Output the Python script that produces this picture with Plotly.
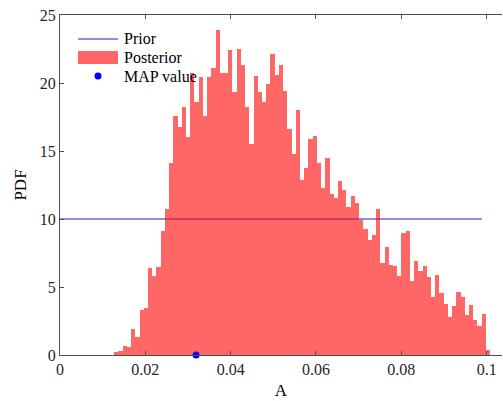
import numpy as np
import plotly.graph_objects as go

# Posterior histogram of parameter A (normalised to a PDF)
bin_start = 0.0127
bin_width = 0.00099
posterior_pdf = [
    0.19, 0.26, 0.63, 0.59, 1.90, 1.32, 3.32, 3.47, 6.40, 5.83,
    6.46, 9.15, 10.75, 14.13, 17.57, 16.77, 18.22, 16.00, 20.70, 18.60,
    20.44, 17.55, 20.44, 21.10, 23.90, 20.76, 20.76, 22.45, 19.34, 22.52,
    21.35, 18.20, 15.50, 20.50, 19.34, 18.58, 19.90, 22.15, 20.56, 21.30,
    19.41, 16.65, 14.75, 18.05, 12.86, 13.72, 15.86, 16.09, 14.09, 12.25,
    14.45, 11.82, 11.52, 12.81, 12.13, 10.90, 11.66, 11.18, 9.93, 9.27,
    8.46, 8.83, 10.70, 6.75, 7.92, 6.62, 6.55, 5.82, 8.95, 9.14,
    5.43, 6.90, 6.21, 6.55, 5.72, 4.25, 5.89, 4.55, 3.76, 2.76,
    3.62, 4.64, 4.30, 2.93, 3.67, 2.59, 2.10, 3.00, 0.39,
]

# Uniform prior
prior_x = [0.0, 0.0989]
prior_pdf = [10, 10]

# Maximum a posteriori estimate
map_value = 0.0319

x_ticks = [0, 0.02, 0.04, 0.06, 0.08, 0.1]
x_tick_labels = ["0", "0.02", "0.04", "0.06", "0.08", "0.1"]
y_ticks = [0, 5, 10, 15, 20, 25]

legend_labels = ["Prior", "Posterior", "MAP value"]

bin_centers = bin_start + bin_width * (np.arange(len(posterior_pdf)) + 0.5)

FONT = "Liberation Serif"
AXIS_GREY = "#4d4d4d"
TICK_TEXT = "#262626"
PRIOR_BLUE = "#1f1fd0"
POST_RED = "rgba(255,0,0,0.6)"
MAP_BLUE = "#0000ff"

W, H = 503, 401
M = dict(l=60, r=1, t=15, b=46)
PW = W - M["l"] - M["r"]
PH = H - M["t"] - M["b"]


def px_x(p):
    return (p - M["l"]) / PW


def px_y(p):
    return (H - M["b"] - p) / PH


fig = go.Figure()

fig.add_trace(go.Scatter(
    x=prior_x, y=prior_pdf, mode="lines", name=legend_labels[0],
    line=dict(color=PRIOR_BLUE, width=1),
    showlegend=False, xaxis="x", yaxis="y",
))

fig.add_trace(go.Bar(
    x=bin_centers, y=posterior_pdf, width=bin_width,
    marker=dict(color=POST_RED, line=dict(width=0)),
    showlegend=False, name=legend_labels[1],
    xaxis="x", yaxis="y2",
))

fig.add_trace(go.Scatter(
    x=[map_value], y=[0], mode="markers", name=legend_labels[2],
    marker=dict(color=MAP_BLUE, size=7),
    cliponaxis=False, showlegend=False,
    xaxis="x", yaxis="y2",
))

# compact legend in the upper-left corner
sym_l, sym_r, text_x = 78, 118, 122
rows = [39, 57.5, 76]
shapes = [
    dict(type="line", xref="paper", yref="paper",
         x0=px_x(sym_l), x1=px_x(sym_r), y0=px_y(rows[0]), y1=px_y(rows[0]),
         line=dict(color=PRIOR_BLUE, width=1)),
    dict(type="rect", xref="paper", yref="paper",
         x0=px_x(sym_l), x1=px_x(sym_r), y0=px_y(rows[1] - 6.5), y1=px_y(rows[1] + 6.5),
         fillcolor=POST_RED, line=dict(width=0)),
    dict(type="circle", xref="paper", yref="paper",
         x0=px_x(98 - 3.5), x1=px_x(98 + 3.5), y0=px_y(rows[2] - 3.5), y1=px_y(rows[2] + 3.5),
         fillcolor=MAP_BLUE, line=dict(width=0)),
]
annotations = [
    dict(text=lab, xref="paper", yref="paper", x=px_x(text_x), y=px_y(r),
         xanchor="left", yanchor="middle", showarrow=False,
         font=dict(family=FONT, size=16, color="black"))
    for lab, r in zip(legend_labels, rows)
]

axis_common = dict(
    showline=True, linecolor=AXIS_GREY, linewidth=1,
    ticks="inside", ticklen=4, tickcolor=AXIS_GREY, tickwidth=1,
    showgrid=False, zeroline=False,
    tickfont=dict(family=FONT, size=16, color=TICK_TEXT),
)

fig.update_layout(
    width=W, height=H,
    margin=M,
    paper_bgcolor="white", plot_bgcolor="white",
    bargap=0,
    font=dict(family=FONT, size=16, color="black"),
    showlegend=False,
    xaxis=dict(
        range=[0, 0.1036], tickvals=x_ticks, ticktext=x_tick_labels,
        mirror="ticks",
        title=dict(text="A", font=dict(family=FONT, size=17), standoff=6),
        **axis_common,
    ),
    yaxis=dict(
        range=[0, 25], tickvals=y_ticks,
        title=dict(text="PDF", font=dict(family=FONT, size=17), standoff=8),
        **axis_common,
    ),
    yaxis2=dict(range=[0, 25], overlaying="y", visible=False),
    shapes=shapes,
    annotations=annotations,
)

fig.write_html("out.html")
